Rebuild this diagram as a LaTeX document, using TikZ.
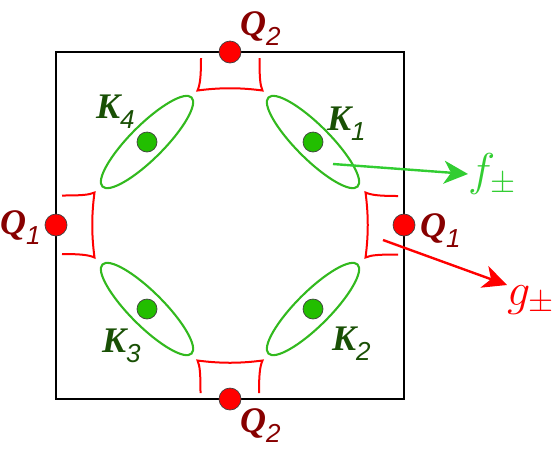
\documentclass[tikz,border=0pt]{standalone}
\usepackage{fix-cm}
\usepackage{fontspec}
\setmainfont{Liberation Serif}
\setsansfont{Liberation Sans}
\usetikzlibrary{arrows.meta}

\definecolor{lensgreen}{RGB}{50,185,30}
\definecolor{dotgreen}{RGB}{34,190,0}
\definecolor{labgreen}{RGB}{25,80,5}
\definecolor{labred}{RGB}{135,0,0}
\definecolor{arrowgreen}{RGB}{50,205,50}

\newcommand{\qk}[2]{{\fontsize{36}{38}\selectfont\bfseries\itshape #1}\raisebox{-10pt}{\fontsize{26}{28}\selectfont\sffamily\itshape #2}}

\tikzset{
  gapcut/.pic={
    \draw[redline] (-29,6) .. controls (-29,25) and (-30,33) .. (-32.5,38.5)
      .. controls (-10,35.5) and (10,35.5) .. (32.5,38.5)
      .. controls (30,33) and (29.5,25) .. (29.5,6);
  }
}

\begin{document}
\begin{tikzpicture}[x=1pt,y=-1pt,>=Stealth,
    qdot/.style={circle,draw=black!75,line width=0.7pt,fill=red,minimum size=22pt,inner sep=0pt},
    kdot/.style={circle,draw=black!75,line width=0.7pt,fill=dotgreen,minimum size=20pt,inner sep=0pt},
    lens/.style={lensgreen,line width=2.1pt},
    redline/.style={red,line width=2pt},
    qlab/.style={labred,anchor=base west,inner sep=0pt},
    klab/.style={labgreen,anchor=base west,inner sep=0pt},
    bigmath/.style={inner sep=0pt,font=\fontsize{46}{50}\selectfont},
    fat/.style={line width=2.4pt,-{Stealth[length=24pt,width=23pt,inset=7pt]}}]
  \useasboundingbox (0,0) rectangle (553,456);

  % zone
  \draw[line width=2pt] (56,52) rectangle (404,399);

  % red pieces at the edges
  \pic at (230,52) {gapcut};
  \pic[rotate=180] at (230,399) {gapcut};
  \pic[rotate=90] at (56,225) {gapcut};
  \pic[rotate=-90] at (404,225) {gapcut};

  % K points
  \node[kdot] (k1) at (313,142) {};
  \node[kdot] (k2) at (313,309) {};
  \node[kdot] (k3) at (147,309) {};
  \node[kdot] (k4) at (147,142) {};
  \draw[lens,shift={(k1)},rotate=-45] (0,0) ellipse (63 and 17);
  \draw[lens,shift={(k2)},rotate=45] (0,0) ellipse (63 and 17);
  \draw[lens,shift={(k3)},rotate=-45] (0,0) ellipse (63 and 17);
  \draw[lens,shift={(k4)},rotate=45] (0,0) ellipse (63 and 17);

  % Q points
  \node[qdot] (q2t) at (230,52) {};
  \node[qdot] (q2b) at (230,399) {};
  \node[qdot] (q1l) at (56,225) {};
  \node[qdot] (q1r) at (404,225) {};

  % labels
  \node[qlab] (lq2t) at (240,35) {\qk{Q}{2}};
  \node[qlab] (lq2b) at (240,432) {\qk{Q}{2}};
  \node[qlab] (lq1l) at (0,234) {\qk{Q}{1}};
  \node[qlab] (lq1r) at (420,237) {\qk{Q}{1}};
  \node[klab] (lk1) at (327,130) {\qk{K}{1}};
  \node[klab] (lk2) at (332,350) {\qk{K}{2}};
  \node[klab] (lk3) at (102,352) {\qk{K}{3}};
  \node[klab] (lk4) at (96,118) {\qk{K}{4}};

  % arrows out
  \coordinate (fstart) at (333,164);
  \coordinate (gstart) at (383,240);
  \node[bigmath,arrowgreen,anchor=west] (f) at (468,174) {$f_\pm$};
  \node[bigmath,red,anchor=north west] (g) at (507,285) {$g_\pm$};
  \draw[fat,arrowgreen] (fstart) -- (f.west);
  \draw[fat,red] (gstart) -- (g.north west);
\end{tikzpicture}
\end{document}
